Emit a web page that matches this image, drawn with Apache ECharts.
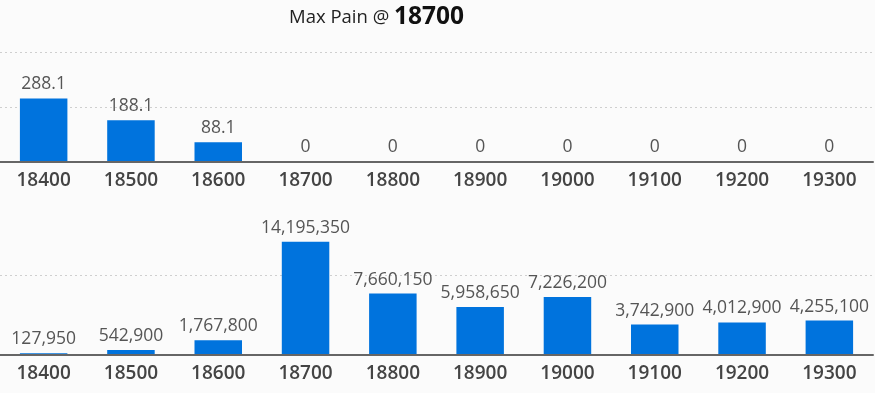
<!DOCTYPE html>
<html>
<head>
<meta charset="utf-8">
<script src="https://cdn.jsdelivr.net/npm/echarts@6/dist/echarts.min.js"></script>
<style>
html,body{margin:0;padding:0;background:#fbfbfb;}
#main{width:875px;height:393px;}
</style>
</head>
<body>
<div id="main"></div>
<script>
const strikes = ['18400','18500','18600','18700','18800','18900','19000','19100','19200','19300'];
const topValues = [288.1, 188.1, 88.1, 0, 0, 0, 0, 0, 0, 0];
const bottomValues = [127950, 542900, 1767800, 14195350, 7660150, 5958650, 7226200, 3742900, 4012900, 4255100];
const maxPainStrike = '18700';

const chart = echarts.init(document.getElementById('main'), null, {renderer: 'canvas'});
const barColor = '#0073dd';
const fontFam = '"Open Sans", "Noto Sans", sans-serif';

function xAxisCfg(gridIndex) {
  return {
    type: 'category', gridIndex, data: strikes, z: 10,
    axisLine: {lineStyle: {color: '#666', width: 2}},
    axisTick: {show: false},
    axisLabel: {fontSize: 19, fontWeight: 600, color: '#444', margin: 10, fontFamily: fontFam}
  };
}
function yAxisCfg(gridIndex, max, interval) {
  return {
    type: 'value', gridIndex, min: 0, max, interval,
    axisLine: {show: false}, axisTick: {show: false}, axisLabel: {show: false},
    splitLine: {show: true, showMinLine: false, showMaxLine: gridIndex === 0, lineStyle: {type: [2, 3], color: '#cfcfcf', width: 1}}
  };
}

chart.setOption({
  backgroundColor: '#fbfbfb',
  animation: false,
  title: {
    text: '{a|Max Pain @ }{b|' + maxPainStrike + '}',
    left: 284, top: 0,
    textStyle: {
      fontWeight: 'normal',
      rich: {
        a: {fontSize: 18.5, fontWeight: 'normal', color: '#222', fontFamily: fontFam},
        b: {fontSize: 24.5, fontWeight: 'bold', color: '#111', fontFamily: fontFam}
      }
    }
  },
  grid: [
    {left: -2, width: 875, top: 52, height: 109.5},
    {left: -2, width: 875, top: 195.7, height: 158.6}
  ],
  xAxis: [xAxisCfg(0), xAxisCfg(1)],
  yAxis: [yAxisCfg(0, 500, 250), yAxisCfg(1, 20000000, 10000000)],
  series: [
    {
      type: 'bar', xAxisIndex: 0, yAxisIndex: 0, data: topValues,
      barWidth: 47.5, itemStyle: {color: barColor},
      label: {show: true, position: 'top', distance: 5, fontSize: 17.5, color: '#555', fontFamily: fontFam, formatter: '{c}'}
    },
    {
      type: 'bar', xAxisIndex: 1, yAxisIndex: 1, data: bottomValues,
      barWidth: 47.5, itemStyle: {color: barColor},
      label: {show: true, position: 'top', distance: 5, fontSize: 17.5, color: '#555', fontFamily: fontFam,
        formatter: p => p.value.toLocaleString('en-US')}
    }
  ]
});
</script>
</body>
</html>
